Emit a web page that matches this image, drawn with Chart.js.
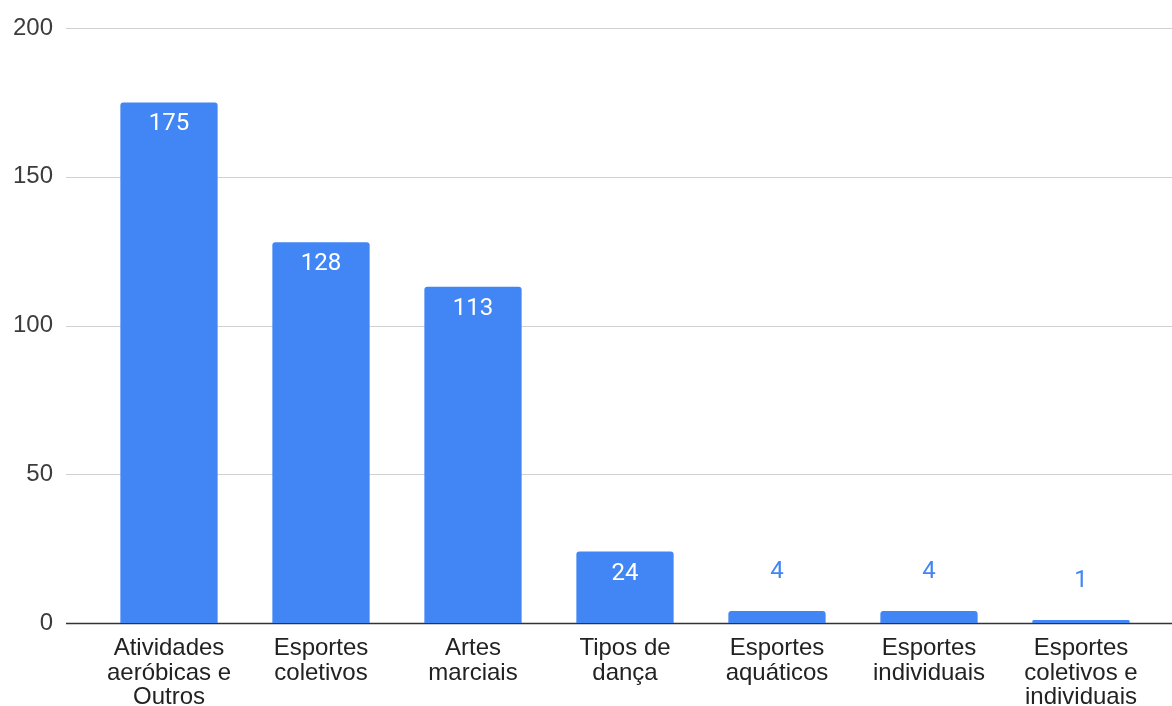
<!DOCTYPE html>
<html>
<head>
<meta charset="utf-8">
<script src="https://cdn.jsdelivr.net/npm/chart.js@4"></script>
<style>
  html, body { margin: 0; padding: 0; background: #fff; }
  #wrap { width: 1172px; height: 706px; position: relative; }
</style>
</head>
<body>
<div id="wrap"><canvas id="c" width="1172" height="706"></canvas></div>
<script>
const categories = [
  ["Atividades", "aeróbicas e", "Outros"],
  ["Esportes", "coletivos"],
  ["Artes", "marciais"],
  ["Tipos de", "dança"],
  ["Esportes", "aquáticos"],
  ["Esportes", "individuais"],
  ["Esportes", "coletivos e", "individuais"]
];
const values = [175, 128, 113, 24, 4, 4, 1];
const yTicks = [0, 50, 100, 150, 200];

const BAR = '#4285F4';
const FONT = "'Liberation Sans', Arial, sans-serif";
const LFONT = "Roboto, 'Liberation Sans', Arial, sans-serif";

const gridPlugin = {
  id: 'fullGrid',
  beforeDatasetsDraw(chart) {
    const ctx = chart.ctx, y = chart.scales.y;
    const x0 = 66, x1 = chart.width;
    ctx.save();
    yTicks.forEach(v => {
      const py = Math.round(y.getPixelForValue(v)) + 0.5;
      ctx.beginPath();
      ctx.lineWidth = v === 0 ? 1.5 : 1.2;
      ctx.strokeStyle = v === 0 ? '#333333' : '#d0d0d0';
      ctx.moveTo(x0, py); ctx.lineTo(x1, py);
      ctx.stroke();
    });
    ctx.restore();
  }
};

const labelPlugin = {
  id: 'barLabels',
  afterDatasetsDraw(chart) {
    const ctx = chart.ctx;
    const meta = chart.getDatasetMeta(0);
    ctx.save();
    ctx.font = "24px " + LFONT;
    ctx.textAlign = 'center';
    ctx.textBaseline = 'middle';
    meta.data.forEach((bar, i) => {
      const v = values[i];
      const h = bar.base - bar.y;
      if (h > 40) {
        ctx.fillStyle = '#ffffff';
        ctx.fillText(String(v), bar.x, bar.y + 22);
      } else {
        ctx.fillStyle = BAR;
        ctx.fillText(String(v), bar.x, bar.y - 39);
      }
    });
    ctx.restore();
  }
};

new Chart(document.getElementById('c'), {
  type: 'bar',
  data: {
    labels: categories,
    datasets: [{
      data: values,
      backgroundColor: BAR,
      borderRadius: 3,
      borderSkipped: 'bottom',
      categoryPercentage: 1,
      barPercentage: 0.64
    }]
  },
  options: {
    responsive: false,
    animation: false,
    devicePixelRatio: 1,
    layout: { padding: { top: 28, right: 15, left: 0, bottom: 0 } },
    plugins: { legend: { display: false }, tooltip: { enabled: false } },
    scales: {
      y: {
        min: 0, max: 200,
        afterFit(s) { s.width = 93; s.paddingTop = 0; s.paddingBottom = 0; },
        afterBuildTicks(s) { s.ticks = yTicks.map(v => ({ value: v })); },
        grid: { display: false, drawTicks: false },
        border: { display: false },
        ticks: {
          padding: 40,
          color: '#3c3c3c',
          font: { family: FONT, size: 24 }
        }
      },
      x: {
        afterFit(s) { s.height = 83; s.paddingLeft = 0; s.paddingRight = 0; },
        grid: { display: false, drawTicks: false },
        border: { display: false },
        ticks: {
          padding: 13,
          color: '#222222',
          maxRotation: 0,
          autoSkip: false,
          font: { family: FONT, size: 24, lineHeight: 1.03 }
        }
      }
    }
  },
  plugins: [gridPlugin, labelPlugin]
});
</script>
</body>
</html>
